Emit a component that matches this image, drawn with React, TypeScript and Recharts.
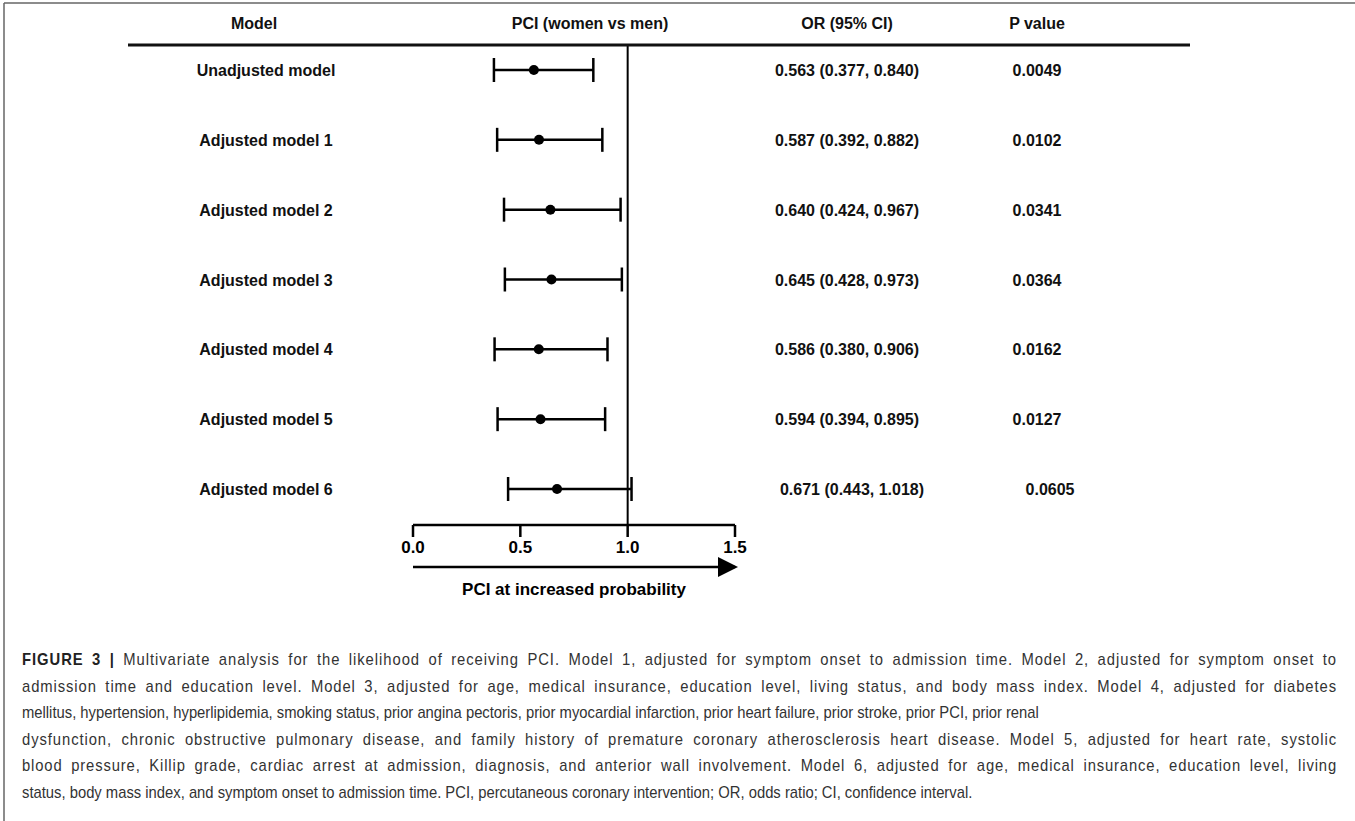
import React from 'react';
import {
  ScatterChart,
  Scatter,
  XAxis,
  YAxis,
  ErrorBar,
  ReferenceLine,
} from 'recharts';

// ---------- data ----------
const models = [
  'Unadjusted model',
  'Adjusted model 1',
  'Adjusted model 2',
  'Adjusted model 3',
  'Adjusted model 4',
  'Adjusted model 5',
  'Adjusted model 6',
];
const orValues = [0.563, 0.587, 0.64, 0.645, 0.586, 0.594, 0.671];
const ciLow = [0.377, 0.392, 0.424, 0.428, 0.38, 0.394, 0.443];
const ciHigh = [0.84, 0.882, 0.967, 0.973, 0.906, 0.895, 1.018];
const orLabels = [
  '0.563 (0.377, 0.840)',
  '0.587 (0.392, 0.882)',
  '0.640 (0.424, 0.967)',
  '0.645 (0.428, 0.973)',
  '0.586 (0.380, 0.906)',
  '0.594 (0.394, 0.895)',
  '0.671 (0.443, 1.018)',
];
const pValues = ['0.0049', '0.0102', '0.0341', '0.0364', '0.0162', '0.0127', '0.0605'];
const xTicks = [0, 0.5, 1.0, 1.5];
const headers = ['Model', 'PCI (women vs men)', 'OR (95% CI)', 'P value'];
const xAxisTitle = 'PCI at increased probability';
const captionLead = 'FIGURE 3 |';
const captionLines = [
  'Multivariate analysis for the likelihood of receiving PCI. Model 1, adjusted for symptom onset to admission time. Model 2, adjusted for symptom onset to',
  'admission time and education level. Model 3, adjusted for age, medical insurance, education level, living status, and body mass index. Model 4, adjusted for diabetes',
  'mellitus, hypertension, hyperlipidemia, smoking status, prior angina pectoris, prior myocardial infarction, prior heart failure, prior stroke, prior PCI, prior renal',
  'dysfunction, chronic obstructive pulmonary disease, and family history of premature coronary atherosclerosis heart disease. Model 5, adjusted for heart rate, systolic',
  'blood pressure, Killip grade, cardiac arrest at admission, diagnosis, and anterior wall involvement. Model 6, adjusted for age, medical insurance, education level, living',
  'status, body mass index, and symptom onset to admission time. PCI, percutaneous coronary intervention; OR, odds ratio; CI, confidence interval.',
];
const captionJustified = [true, true, false, true, true, false];

const rows = models.map((name, i) => ({
  row: i,
  name,
  or: orValues[i],
  errX: [orValues[i] - ciLow[i], ciHigh[i] - orValues[i]],
}));
const rowIdx = models.map((_, i) => i);

// ---------- layout ----------
const W = 1355;
const H = 821;
const FONT = '"Liberation Sans", Arial, Helvetica, sans-serif';
const COL_MODEL_HEAD = 254;
const COL_MODEL = 266;
const COL_PCI = 590;
const COL_OR = 847;
const COL_P = 1037;
const HEADER_Y = 23;
const HEADER_LINE_Y = 45;
const AXIS_Y = 525;
const CHART_H = 640;
const Y_DOMAIN: [number, number] = [-0.358, 6.5155];
const CAPTION_SCALE = 0.87;
const CAPTION_FS = 17;
const CAPTION_W = 1315;

const LeftTick = (props: any) => {
  const { y, payload } = props;
  const name = models[payload.value];
  if (name === undefined) return null;
  return (
    <text x={COL_MODEL} y={y} dy={6} textAnchor="middle" fontFamily={FONT} fontSize={16} fontWeight={700} fill="#111">
      {name}
    </text>
  );
};

const RightTick = (props: any) => {
  const { y, payload } = props;
  const i = payload.value;
  if (orLabels[i] === undefined) return null;
  const last = i === models.length - 1;
  return (
    <g>
      <text x={COL_OR + (last ? 5 : 0)} y={y} dy={6} textAnchor="middle" fontFamily={FONT} fontSize={16} fontWeight={700} fill="#111">
        {orLabels[i]}
      </text>
      <text x={COL_P + (last ? 13 : 0)} y={y} dy={6} textAnchor="middle" fontFamily={FONT} fontSize={16} fontWeight={700} fill="#111">
        {pValues[i]}
      </text>
    </g>
  );
};

const Dot = (props: any) => <circle cx={props.cx} cy={props.cy} r={5} fill="#000" />;

function computeSpacing(): number[] {
  const target = CAPTION_W / CAPTION_SCALE;
  let ctx: CanvasRenderingContext2D | null = null;
  try {
    ctx = document.createElement('canvas').getContext('2d');
  } catch (e) {
    ctx = null;
  }
  return captionLines.map((ln, i) => {
    if (!captionJustified[i] || !ctx) return 0;
    ctx.font = `${CAPTION_FS}px "Liberation Sans"`;
    let natural = ctx.measureText(i === 0 ? ' ' + ln : ln).width;
    let len = ln.length + (i === 0 ? 1 : 0);
    if (i === 0) {
      ctx.font = `bold ${CAPTION_FS}px "Liberation Sans"`;
      natural += ctx.measureText(captionLead).width;
      len += captionLead.length;
    }
    const extra = target - natural - 4;
    return extra > 0 ? (extra * 0.65) / len : 0;
  });
}

export default function App() {
  const spacing = React.useMemo(computeSpacing, []);
  return (
    <div style={{ position: 'absolute', left: 0, top: 0, width: W, height: H, background: '#fff', overflow: 'hidden' }}>
      <div style={{ position: 'absolute', left: 0, top: 0 }}>
        <ScatterChart
          width={W}
          height={CHART_H}
          margin={{ top: HEADER_LINE_Y, right: 0, bottom: CHART_H - AXIS_Y - 42 - 40, left: 0 }}
        >
          <defs>
            <marker id="arrowHead" markerUnits="userSpaceOnUse" markerWidth="20" markerHeight="22" refX="17" refY="11" orient="auto">
              <path d="M0,1 L20,11 L0,21 z" fill="#000" />
            </marker>
          </defs>
          <XAxis
            xAxisId="b_arrow"
            type="number"
            domain={[0, 1.5]}
            allowDataOverflow
            tick={false}
            tickLine={false}
            axisLine={{ stroke: '#000', strokeWidth: 2.5, markerEnd: 'url(#arrowHead)' }}
            height={40}
            label={{ value: xAxisTitle, position: 'insideTop', offset: 16, fill: '#000', fontSize: 17, fontWeight: 700, fontFamily: FONT }}
          />
          <XAxis
            xAxisId="a_main"
            type="number"
            dataKey="or"
            domain={[0, 1.5]}
            ticks={xTicks}
            allowDataOverflow
            tickFormatter={(v: number) => v.toFixed(1)}
            axisLine={{ stroke: '#000', strokeWidth: 2.5 }}
            tickLine={{ stroke: '#000', strokeWidth: 2.5 }}
            tickSize={12}
            tickMargin={4}
            tick={{ fill: '#000', fontSize: 17, fontWeight: 700, fontFamily: FONT }}
            height={42}
          />
          <YAxis
            yAxisId="left"
            type="number"
            dataKey="row"
            domain={Y_DOMAIN}
            reversed
            ticks={rowIdx}
            allowDataOverflow
            axisLine={false}
            tickLine={false}
            width={413}
            tick={<LeftTick />}
          />
          <YAxis
            yAxisId="right"
            orientation="right"
            type="number"
            domain={Y_DOMAIN}
            reversed
            ticks={rowIdx}
            allowDataOverflow
            axisLine={false}
            tickLine={false}
            width={620}
            tick={<RightTick />}
          />
          <ReferenceLine x={1} xAxisId="a_main" yAxisId="left" stroke="#000" strokeWidth={2} />
          <Scatter
            data={rows}
            xAxisId="a_main"
            yAxisId="left"
            dataKey="or"
            fill="#000"
            shape={<Dot />}
            isAnimationActive={false}
          >
            <ErrorBar dataKey="errX" direction="x" width={12} stroke="#000" strokeWidth={2.5} isAnimationActive={false} />
          </Scatter>
        </ScatterChart>
      </div>
      <svg width={W} height={H} style={{ position: 'absolute', left: 0, top: 0, pointerEvents: 'none' }}>
        <line x1={4} y1={3} x2={W} y2={3} stroke="#666" strokeWidth={1.5} />
        <line x1={4} y1={3} x2={4} y2={H} stroke="#666" strokeWidth={1.5} />
        <line x1={128} y1={HEADER_LINE_Y} x2={1190} y2={HEADER_LINE_Y} stroke="#111" strokeWidth={3} />
        {[COL_MODEL_HEAD, COL_PCI, COL_OR, COL_P].map((cx, i) => (
          <text key={i} x={cx} y={HEADER_Y} dy={6} textAnchor="middle" fontFamily={FONT} fontSize={16} fontWeight={700} fill="#111">
            {headers[i]}
          </text>
        ))}
      </svg>
      <div style={{ position: 'absolute', left: 22, top: 647, fontFamily: FONT, fontSize: CAPTION_FS, color: '#333', lineHeight: '26.5px' }}>
        {captionLines.map((ln, i) => (
          <div
            key={i}
            style={{
              width: CAPTION_W / CAPTION_SCALE,
              transform: `scaleX(${CAPTION_SCALE})`,
              transformOrigin: 'left center',
              whiteSpace: 'nowrap',
              letterSpacing: `${spacing[i]}px`,
              textAlign: captionJustified[i] ? 'justify' : 'left',
              textAlignLast: captionJustified[i] ? 'justify' : 'left',
            }}
          >
            {i === 0 ? (
              <>
                <b style={{ color: '#222' }}>{captionLead}</b> {ln}
              </>
            ) : (
              ln
            )}
          </div>
        ))}
      </div>
    </div>
  );
}
